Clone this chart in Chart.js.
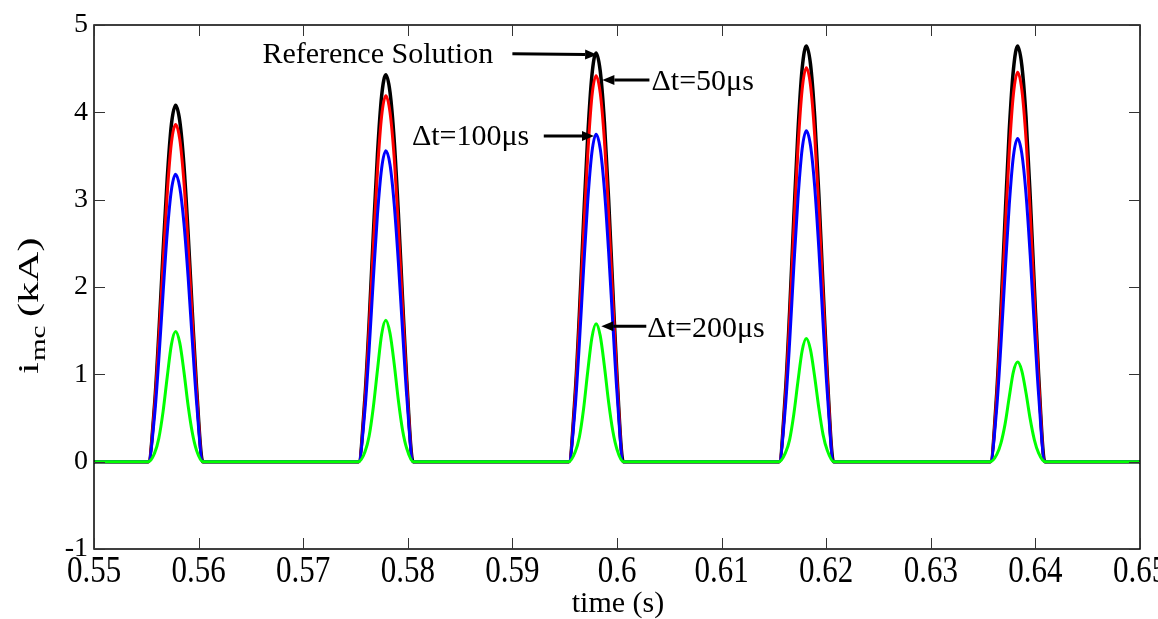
<!DOCTYPE html>
<html>
<head>
<meta charset="utf-8">
<script src="https://cdn.jsdelivr.net/npm/chart.js@4/dist/chart.umd.min.js"></script>
<style>
  body { margin: 0; overflow: hidden; background: #fff; }
  #wrap { width: 1190px; height: 619px; }
</style>
</head>
<body>
<div id="wrap"><canvas id="imcPlot" width="1190" height="619"></canvas></div>
<script>
// time samples (s), five current pulses
const time = [
  0.5500,
  0.5552, 0.5558, 0.5562, 0.5566, 0.5570, 0.5574, 0.5578, 0.5582, 0.5586, 0.5590, 0.5594, 0.5598, 0.5604,
  0.5753, 0.5759, 0.5763, 0.5767, 0.5771, 0.5775, 0.5779, 0.5783, 0.5787, 0.5791, 0.5795, 0.5799, 0.5805,
  0.5954, 0.5960, 0.5964, 0.5968, 0.5972, 0.5976, 0.5980, 0.5984, 0.5988, 0.5992, 0.5996, 0.6000, 0.6006,
  0.6155, 0.6161, 0.6165, 0.6169, 0.6173, 0.6177, 0.6181, 0.6185, 0.6189, 0.6193, 0.6197, 0.6201, 0.6207,
  0.6357, 0.6363, 0.6367, 0.6371, 0.6375, 0.6379, 0.6383, 0.6387, 0.6391, 0.6395, 0.6399, 0.6403, 0.6409,
  0.6500
];

// i_mc (kA)
const refSolution = [
  0,
  0, 0.67, 1.47, 2.39, 3.24, 3.86, 4.08, 3.90, 3.39, 2.61, 1.71, 0.86, 0,
  0, 0.73, 1.59, 2.59, 3.52, 4.19, 4.43, 4.23, 3.68, 2.84, 1.86, 0.93, 0,
  0, 0.77, 1.68, 2.74, 3.72, 4.42, 4.68, 4.47, 3.88, 3.00, 1.97, 0.98, 0,
  0, 0.79, 1.71, 2.78, 3.78, 4.50, 4.76, 4.55, 3.95, 3.05, 2.00, 1.00, 0,
  0, 0.78, 1.72, 2.79, 3.79, 4.49, 4.76, 4.54, 3.95, 3.04, 2.00, 1.01, 0,
  0
];
const dt50 = [
  0,
  0, 0.64, 1.39, 2.26, 3.07, 3.65, 3.86, 3.69, 3.20, 2.47, 1.62, 0.81, 0,
  0, 0.69, 1.51, 2.45, 3.33, 3.96, 4.19, 4.00, 3.48, 2.68, 1.76, 0.88, 0,
  0, 0.73, 1.59, 2.59, 3.51, 4.18, 4.42, 4.22, 3.67, 2.83, 1.86, 0.93, 0,
  0, 0.74, 1.62, 2.64, 3.59, 4.26, 4.51, 4.31, 3.74, 2.89, 1.89, 0.95, 0,
  0, 0.74, 1.61, 2.61, 3.55, 4.21, 4.46, 4.26, 3.70, 2.85, 1.87, 0.94, 0,
  0
];
const dt100 = [
  0,
  0, 0.54, 1.18, 1.92, 2.62, 3.11, 3.29, 3.14, 2.73, 2.11, 1.38, 0.69, 0,
  0, 0.59, 1.28, 2.08, 2.83, 3.36, 3.56, 3.40, 2.95, 2.28, 1.50, 0.75, 0,
  0, 0.62, 1.35, 2.19, 2.98, 3.54, 3.75, 3.58, 3.11, 2.40, 1.58, 0.79, 0,
  0, 0.63, 1.36, 2.22, 3.01, 3.58, 3.79, 3.62, 3.15, 2.43, 1.59, 0.80, 0,
  0, 0.61, 1.33, 2.16, 2.94, 3.50, 3.70, 3.53, 3.07, 2.37, 1.55, 0.78, 0,
  0
];
const dt200 = [
  0,
  0, 0.10, 0.27, 0.57, 0.97, 1.34, 1.49, 1.36, 1.03, 0.64, 0.33, 0.13, 0,
  0, 0.11, 0.29, 0.62, 1.05, 1.46, 1.62, 1.47, 1.12, 0.70, 0.36, 0.15, 0,
  0, 0.11, 0.28, 0.60, 1.03, 1.42, 1.58, 1.44, 1.09, 0.68, 0.35, 0.14, 0,
  0, 0.10, 0.25, 0.54, 0.92, 1.27, 1.41, 1.28, 0.97, 0.61, 0.31, 0.13, 0,
  0, 0.08, 0.21, 0.43, 0.74, 1.03, 1.14, 1.04, 0.79, 0.49, 0.25, 0.10, 0,
  0
];

const xTicks = [0.55, 0.56, 0.57, 0.58, 0.59, 0.6, 0.61, 0.62, 0.63, 0.64, 0.65];
const yTicks = [-1, 0, 1, 2, 3, 4, 5];

// labels with arrows, in data units (text left edge, arrow start -> tip)
const notes = [
  { text: 'Reference Solution', tx: 0.5661, ty: 4.65, ax: 0.5900, ay: 4.67, bx: 0.5981, by: 4.66 },
  { text: 'Δt=50μs',  tx: 0.6033, ty: 4.35, ax: 0.6031, ay: 4.37, bx: 0.5986, by: 4.37 },
  { text: 'Δt=100μs', tx: 0.5804, ty: 3.72, ax: 0.5930, ay: 3.73, bx: 0.5978, by: 3.73 },
  { text: 'Δt=200μs', tx: 0.6029, ty: 1.52, ax: 0.6028, ay: 1.55, bx: 0.5985, by: 1.55 }
];

const SERIF = '"Liberation Serif", "Times New Roman", serif';

function toPoints(ys) {
  return time.map((t, i) => ({ x: t, y: ys[i] }));
}

function arrow(ctx, x0, y0, x1, y1) {
  const ang = Math.atan2(y1 - y0, x1 - x0);
  const head = 12, half = 5;
  const hx = x1 - head * Math.cos(ang), hy = y1 - head * Math.sin(ang);
  ctx.beginPath();
  ctx.moveTo(x0, y0);
  ctx.lineTo(hx, hy);
  ctx.stroke();
  ctx.beginPath();
  ctx.moveTo(x1, y1);
  ctx.lineTo(hx + half * Math.sin(ang), hy - half * Math.cos(ang));
  ctx.lineTo(hx - half * Math.sin(ang), hy + half * Math.cos(ang));
  ctx.closePath();
  ctx.fill();
}

// matlab-like frame: box, inward ticks, x labels, axis titles, annotations
const matlabFrame = {
  id: 'matlabFrame',
  afterDraw(chart) {
    const { ctx, chartArea: a, scales: { x, y } } = chart;
    ctx.save();
    ctx.strokeStyle = '#000';
    ctx.fillStyle = '#000';

    ctx.lineWidth = 1.5;
    ctx.strokeRect(a.left, a.top, a.right - a.left, a.bottom - a.top);

    ctx.lineWidth = 1;
    ctx.strokeStyle = '#333';
    ctx.beginPath();
    xTicks.forEach(v => {
      const px = Math.round(x.getPixelForValue(v)) + 0.5;
      ctx.moveTo(px, a.bottom); ctx.lineTo(px, a.bottom - 11);
      ctx.moveTo(px, a.top); ctx.lineTo(px, a.top + 11);
    });
    yTicks.forEach(v => {
      const py = Math.round(y.getPixelForValue(v)) + 0.5;
      ctx.moveTo(a.left, py); ctx.lineTo(a.left + 11, py);
      ctx.moveTo(a.right, py); ctx.lineTo(a.right - 11, py);
    });
    ctx.stroke();

    // x tick labels
    ctx.textAlign = 'center';
    ctx.textBaseline = 'alphabetic';
    ctx.font = '31px ' + SERIF;
    xTicks.forEach(v => {
      ctx.save();
      ctx.translate(x.getPixelForValue(v), a.bottom + 33);
      ctx.scale(1, 1.25);
      ctx.fillText(String(+v.toFixed(2)), 0, 0);
      ctx.restore();
    });

    // x title
    ctx.font = '30px ' + SERIF;
    ctx.fillText('time (s)', (a.left + a.right) / 2 + 1, 612);

    // y title with subscript
    ctx.save();
    ctx.translate(38, 374);
    ctx.rotate(-Math.PI / 2);
    ctx.scale(1.45, 1);
    ctx.textAlign = 'left';
    ctx.font = '29px ' + SERIF;
    ctx.fillText('i', 0, 0);
    ctx.fillText('(kA)', 57 / 1.45, 0);
    ctx.font = '20px ' + SERIF;
    ctx.fillText('mc', 13 / 1.45, 7);
    ctx.restore();

    // annotations
    ctx.strokeStyle = '#000';
    ctx.lineWidth = 3;
    ctx.textAlign = 'left';
    ctx.textBaseline = 'middle';
    ctx.font = '30px ' + SERIF;
    notes.forEach(n => {
      ctx.fillText(n.text, x.getPixelForValue(n.tx), y.getPixelForValue(n.ty));
      arrow(ctx, x.getPixelForValue(n.ax), y.getPixelForValue(n.ay),
                 x.getPixelForValue(n.bx), y.getPixelForValue(n.by));
    });
    ctx.restore();
  }
};

const ctx = document.getElementById('imcPlot').getContext('2d');
new Chart(ctx, {
  type: 'line',
  data: {
    datasets: [
      { label: 'Reference Solution', data: toPoints(refSolution), borderColor: '#000000', borderWidth: 3.5, order: 4 },
      { label: 'Δt=50μs', data: toPoints(dt50), borderColor: '#ff0000', borderWidth: 3, order: 3 },
      { label: 'Δt=100μs', data: toPoints(dt100), borderColor: '#0000ff', borderWidth: 3, order: 2 },
      { label: 'Δt=200μs', data: toPoints(dt200), borderColor: '#00ff00', borderWidth: 3, order: 1 }
    ]
  },
  options: {
    responsive: false,
    animation: false,
    layout: { padding: { left: 0, right: 50, top: 25, bottom: 0 } },
    elements: {
      point: { radius: 0 },
      line: { fill: false, cubicInterpolationMode: 'monotone' }
    },
    plugins: {
      legend: { display: false },
      tooltip: { enabled: false }
    },
    scales: {
      x: {
        type: 'linear',
        min: 0.55,
        max: 0.65,
        grid: { display: false, drawTicks: false },
        border: { display: false },
        ticks: { display: false },
        afterBuildTicks(s) { s.ticks = xTicks.map(v => ({ value: v })); },
        afterFit(s) { s.height = 70; }
      },
      y: {
        min: -1,
        max: 5,
        grid: { display: false, drawTicks: false },
        border: { display: false },
        ticks: { padding: 6, color: '#000', font: { family: SERIF, size: 28 } },
        afterBuildTicks(s) { s.ticks = yTicks.map(v => ({ value: v })); },
        afterFit(s) { s.width = 94; }
      }
    }
  },
  plugins: [matlabFrame]
});
</script>
</body>
</html>
